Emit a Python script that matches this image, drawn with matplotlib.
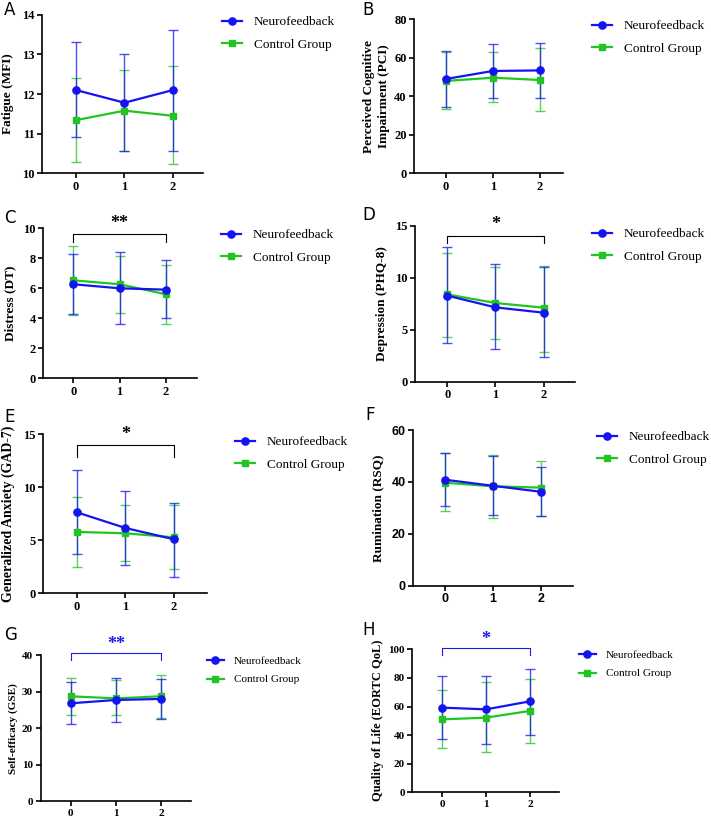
import matplotlib
matplotlib.use('Agg')
import matplotlib.pyplot as plt

timepoints = [0, 1, 2]
groups = ['Neurofeedback', 'Control Group']

# A - Fatigue (MFI)
A_nf_mean = [12.10, 11.78, 12.10]
A_nf_low = [10.91, 10.56, 10.56]
A_nf_high = [13.30, 13.02, 13.62]
A_cg_mean = [11.34, 11.58, 11.45]
A_cg_low = [10.28, 10.55, 10.24]
A_cg_high = [12.40, 12.60, 12.70]

# B - Perceived Cognitive Impairment (PCI)
B_nf_mean = [48.9, 53.1, 53.4]
B_nf_low = [34.2, 38.9, 38.9]
B_nf_high = [63.7, 67.2, 67.8]
B_cg_mean = [47.9, 49.6, 48.4]
B_cg_low = [33.3, 36.8, 32.3]
B_cg_high = [62.8, 62.8, 64.9]

# C - Distress (DT)
C_nf_mean = [6.27, 6.00, 5.91]
C_nf_low = [4.31, 3.60, 4.00]
C_nf_high = [8.27, 8.40, 7.89]
C_cg_mean = [6.53, 6.27, 5.60]
C_cg_low = [4.24, 4.33, 3.62]
C_cg_high = [8.84, 8.18, 7.53]

# D - Depression (PHQ-8)
D_nf_mean = [8.29, 7.16, 6.65]
D_nf_low = [3.69, 3.11, 2.34]
D_nf_high = [12.95, 11.31, 11.05]
D_cg_mean = [8.41, 7.58, 7.13]
D_cg_low = [4.30, 4.08, 2.89]
D_cg_high = [12.43, 11.08, 11.18]

# E - Generalized Anxiety (GAD-7)
E_nf_mean = [7.64, 6.16, 5.09]
E_nf_low = [3.68, 2.64, 1.54]
E_nf_high = [11.67, 9.69, 8.49]
E_cg_mean = [5.79, 5.66, 5.28]
E_cg_low = [2.45, 3.05, 2.30]
E_cg_high = [9.12, 8.33, 8.30]

# F - Rumination (RSQ)
F_nf_mean = [40.85, 38.5, 36.2]
F_nf_low = [30.8, 27.2, 26.8]
F_nf_high = [51.0, 50.0, 45.9]
F_cg_mean = [39.7, 38.3, 37.8]
F_cg_low = [28.8, 25.9, 26.8]
F_cg_high = [51.0, 50.4, 48.2]

# G - Self-efficacy (GSE)
G_nf_mean = [26.85, 27.76, 28.04]
G_nf_low = [21.1, 21.8, 22.6]
G_nf_high = [32.8, 33.8, 33.4]
G_cg_mean = [28.77, 28.2, 28.77]
G_cg_low = [23.65, 23.65, 22.84]
G_cg_high = [33.7, 33.1, 34.7]

# H - Quality of Life (EORTC QoL)
H_nf_mean = [59.2, 58.0, 63.6]
H_nf_low = [37.5, 34.0, 40.3]
H_nf_high = [81.1, 81.6, 86.5]
H_cg_mean = [51.0, 52.2, 56.9]
H_cg_low = [30.8, 28.0, 34.5]
H_cg_high = [71.3, 76.9, 79.0]

panel_letters = ['A', 'B', 'C', 'D', 'E', 'F', 'G', 'H']
ylabels = ['Fatigue (MFI)', 'Perceived Cognitive\nImpairment (PCI)', 'Distress (DT)',
           'Depression (PHQ-8)', 'Generalized Anxiety (GAD-7)', 'Rumination (RSQ)',
           'Self-efficacy (GSE)', 'Quality of Life (EORTC QoL)']
yticks_list = [[10, 11, 12, 13, 14], [0, 20, 40, 60, 80], [0, 2, 4, 6, 8, 10],
               [0, 5, 10, 15], [0, 5, 10, 15], [0, 20, 40, 60], [0, 10, 20, 30, 40],
               [0, 20, 40, 60, 80, 100]]
significance = [None, None, '**', '*', '*', None, '**', '*']

data = {
    'A': (A_nf_mean, A_nf_low, A_nf_high, A_cg_mean, A_cg_low, A_cg_high),
    'B': (B_nf_mean, B_nf_low, B_nf_high, B_cg_mean, B_cg_low, B_cg_high),
    'C': (C_nf_mean, C_nf_low, C_nf_high, C_cg_mean, C_cg_low, C_cg_high),
    'D': (D_nf_mean, D_nf_low, D_nf_high, D_cg_mean, D_cg_low, D_cg_high),
    'E': (E_nf_mean, E_nf_low, E_nf_high, E_cg_mean, E_cg_low, E_cg_high),
    'F': (F_nf_mean, F_nf_low, F_nf_high, F_cg_mean, F_cg_low, F_cg_high),
    'G': (G_nf_mean, G_nf_low, G_nf_high, G_cg_mean, G_cg_low, G_cg_high),
    'H': (H_nf_mean, H_nf_low, H_nf_high, H_cg_mean, H_cg_low, H_cg_high),
}

# ---- layout / style (pixels in a 711x821 figure) ----
W, H = 711, 821
boxes = {  # left, top, right, bottom
    'A': (42, 14.7, 203, 173.3),
    'B': (414.3, 19.3, 563.3, 173),
    'C': (43.3, 228.3, 197.3, 378.3),
    'D': (415, 226, 575, 381.7),
    'E': (43.3, 434.3, 206.7, 593.3),
    'F': (413.3, 430, 573.3, 585.7),
    'G': (40.7, 655.3, 191, 801.3),
    'H': (412.3, 649.3, 559.3, 792.3),
}
xlims = {'A': (-0.70, 2.62), 'B': (-0.66, 2.49), 'C': (-0.65, 2.68), 'D': (-0.67, 2.65),
         'E': (-0.69, 2.67), 'F': (-0.66, 2.68), 'G': (-0.66, 2.66), 'H': (-0.68, 2.67)}
label_x = {'A': 8.3, 'B': 376.7, 'C': 10, 'D': 382.3, 'E': 8.3, 'F': 378.3, 'G': 12.7, 'H': 378.3}
label_fs = {'A': 9.5, 'B': 9.5, 'C': 9.5, 'D': 9.5, 'E': 10, 'F': 9.5, 'G': 8, 'H': 9}
letter_pos = {'A': (4, 10), 'B': (362, 10), 'C': (4, 218), 'D': (362, 215),
              'E': (4, 417), 'F': (365, 415), 'G': (4, 635), 'H': (362, 630)}
legend_pos = {'A': (222, 16), 'B': (592, 20), 'C': (221, 229), 'D': (592, 228),
              'E': (235, 436), 'F': (597, 431), 'G': (207, 656), 'H': (579, 650)}
bracket_y = {'C': (9.62, 9.11), 'D': (14.07, 13.33), 'E': (14.0, 12.9),
             'G': (40.5, 38.7), 'H': (100.7, 96.0)}
star_y = {'C': 10.33, 'D': 15.16, 'E': 14.94, 'G': 43.0, 'H': 107.2}
bracket_color = {'C': 'black', 'D': 'black', 'E': 'black', 'G': '#1a1aee', 'H': '#1a1aee'}

BLUE = '#1414f0'
GREEN = '#22c422'
SERIF = 'Liberation Serif'

fig = plt.figure(figsize=(W / 100, H / 100), dpi=100)

for i, key in enumerate(panel_letters):
    l, t, r, b = boxes[key]
    ax = fig.add_axes([l / W, 1 - b / H, (r - l) / W, (b - t) / H])
    nf_m, nf_lo, nf_hi, cg_m, cg_lo, cg_hi = data[key]
    small = key in ('G', 'H')
    fs_tick = 8 if small else 9
    fs_leg = 8 if small else 9.5

    cg_err = [[m - lo for m, lo in zip(cg_m, cg_lo)], [hi - m for m, hi in zip(cg_m, cg_hi)]]
    nf_err = [[m - lo for m, lo in zip(nf_m, nf_lo)], [hi - m for m, hi in zip(nf_m, nf_hi)]]

    ax.errorbar(timepoints, cg_m, yerr=cg_err, fmt='none', ecolor=GREEN, elinewidth=1.0,
                capsize=3.5, capthick=1.0, alpha=0.75, zorder=2)
    ax.errorbar(timepoints, nf_m, yerr=nf_err, fmt='none', ecolor=BLUE, elinewidth=1.0,
                capsize=3.5, capthick=1.0, alpha=0.75, zorder=2)
    ln_cg, = ax.plot(timepoints, cg_m, color=GREEN, marker='s', markersize=5, lw=1.6, zorder=3)
    ln_nf, = ax.plot(timepoints, nf_m, color=BLUE, marker='o', markersize=5.2, lw=1.6, zorder=4)

    ax.set_xlim(*xlims[key])
    yt = yticks_list[i]
    ax.set_ylim(yt[0], yt[-1])
    ax.set_yticks(yt)
    ax.set_xticks(timepoints)
    for s in ('top', 'right'):
        ax.spines[s].set_visible(False)
    for s in ('left', 'bottom'):
        ax.spines[s].set_linewidth(1.2)
    ax.tick_params(width=1.2, length=3.5, pad=2)
    tick_family = 'Liberation Sans' if key == 'F' else SERIF
    for lab in ax.get_xticklabels() + ax.get_yticklabels():
        lab.set_fontfamily(tick_family)
        lab.set_fontweight('bold')
        lab.set_fontsize(fs_tick)

    ax.set_ylabel(ylabels[i], fontfamily=SERIF, fontweight='bold', fontsize=label_fs[key],
                  va='center', ha='center', linespacing=1.3)
    ax.yaxis.set_label_coords((label_x[key] - l) / (r - l), 0.5)

    lx, ly = legend_pos[key]
    ax.legend([ln_nf, ln_cg], groups, loc='upper left', bbox_to_anchor=(lx / W, 1 - ly / H),
              bbox_transform=fig.transFigure, frameon=False, borderpad=0, borderaxespad=0,
              handlelength=1.5, handletextpad=0.9, labelspacing=0.8,
              prop={'family': SERIF, 'size': fs_leg})

    px, py = letter_pos[key]
    fig.text(px / W, 1 - py / H, key, fontsize=12, fontfamily='DejaVu Sans', va='center', ha='left')

    if significance[i]:
        y1, y0 = bracket_y[key]
        c = bracket_color[key]
        ax.plot([0, 0, 2, 2], [y0, y1, y1, y0], color=c, lw=0.8, clip_on=False)
        ax.text(1, star_y[key], significance[i], color=c, ha='center', va='center',
                fontsize=13, fontweight='bold', fontfamily=SERIF, clip_on=False)

fig.savefig('out.png', dpi=100)
